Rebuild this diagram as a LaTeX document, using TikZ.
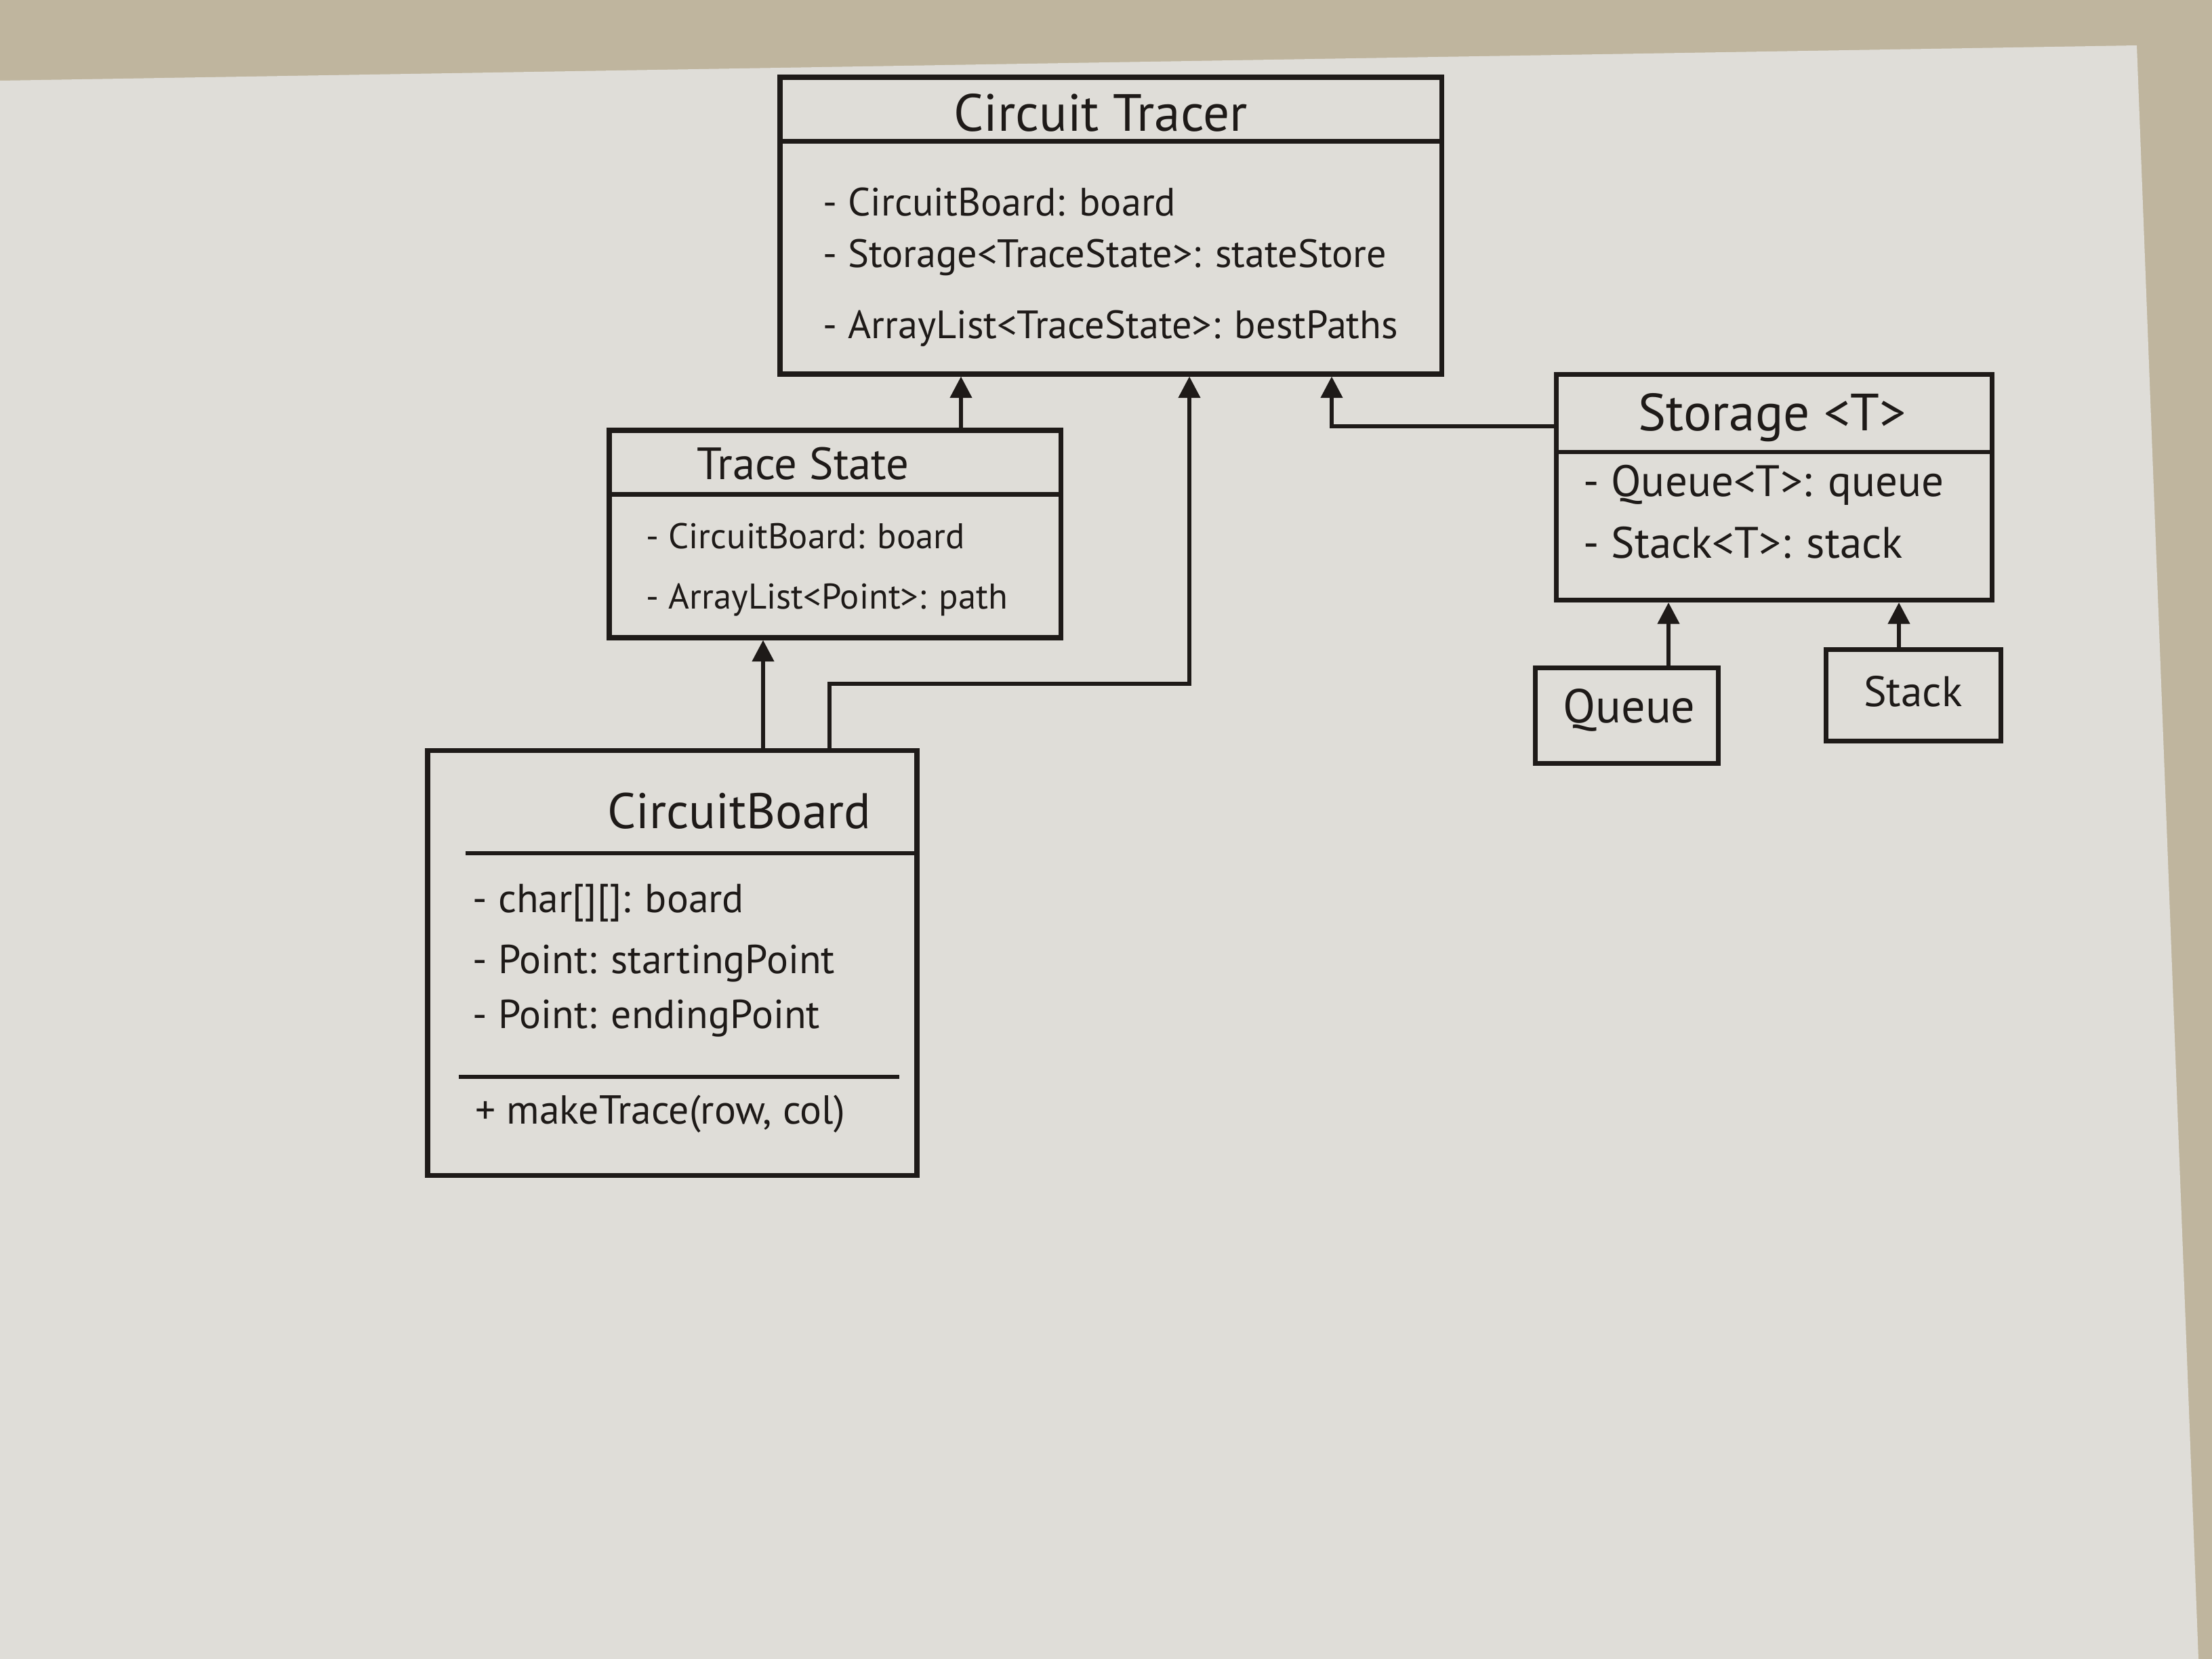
\documentclass[tikz,border=0pt]{standalone}
\usepackage{fontspec}
\setmainfont{PT Sans}
\usetikzlibrary{arrows.meta,positioning}
\definecolor{paper}{HTML}{DFDDD8}
\definecolor{wall}{HTML}{BFB59E}
\definecolor{ink}{HTML}{1E1A18}
\tikzset{
	classbox/.style={draw=ink, line width=2pt, inner sep=0pt},
	classname/.style={text=ink, inner sep=0pt, font=\fontsize{#1}{#1}\selectfont},
	classname/.default=22,
	member/.style={anchor=west, text=ink, inner sep=0pt, font=\fontsize{#1}{#1}\selectfont},
	member/.default=16,
	divider/.style={draw=ink, line width=1.8pt},
	inherit/.style={draw=ink, line width=1.6pt, -{Triangle[width=9pt,length=9pt]}}
}
\begin{document}
\begin{tikzpicture}[y={(0cm,-1cm)}]
	% wall and sheet
	\fill[wall] (0,0) rectangle (32.64,24.48);
	\fill[paper] (0,1.19) -- (31.53,0.67) -- (32.44,24.48) -- (0,24.48) -- cycle;

	% Circuit Tracer
	\node[classbox, minimum width=9.76cm, minimum height=4.38cm] (tracer) at (16.39,3.33) {};
	\draw[divider] ([yshift=-0.98cm]tracer.north west) -- ([yshift=-0.98cm]tracer.north east);
	\node[classname] (tracer-name) at (16.24,1.66) {Circuit Tracer};
	\foreach \y\t [count=\k] in {2.98/- CircuitBoard: board, 3.80/- Storage<TraceState>: stateStore, 4.85/- ArrayList<TraceState>: bestPaths}{
		\node[member=16.6] (tracer-m\k) at (12.14,\y) {\t};
	}

	% Trace State
	\node[classbox, minimum width=6.66cm, minimum height=3.06cm] (tracestate) at (12.32,7.88) {};
	\draw[divider] ([yshift=-0.98cm]tracestate.north west) -- ([yshift=-0.98cm]tracestate.north east);
	\node[classname=19] (tracestate-name) at (11.85,6.84) {Trace State};
	\foreach \y\t [count=\k] in {7.91/- CircuitBoard: board, 8.85/- ArrayList<Point>: path}{
		\node[member=15] (tracestate-m\k) at (9.53,\y) {\t};
	}

	% Storage <T>
	\node[classbox, minimum width=6.43cm, minimum height=3.33cm] (storage) at (26.18,7.19) {};
	\draw[divider] ([yshift=-1.18cm]storage.north west) -- ([yshift=-1.18cm]storage.north east);
	\node[classname] (storage-name) at (26.15,6.16) {Storage <T>};
	\foreach \y\t [count=\k] in {7.16/- Queue<T>: queue, 8.01/- Stack<T>: stack}{
		\node[member=18.5] (storage-m\k) at (23.36,\y) {\t};
	}

	% Queue and Stack
	\node[classbox, minimum width=2.70cm, minimum height=1.41cm] (queue) at (24.00,10.56) {};
	\node[classname=20] (queue-name) at (24.04,10.48) {Queue};
	\node[classbox, minimum width=2.58cm, minimum height=1.35cm] (stack) at (28.23,10.26) {};
	\node[classname=18] (stack-name) at (28.23,10.20) {Stack};

	% CircuitBoard
	\node[classbox, minimum width=7.22cm, minimum height=6.27cm] (board) at (9.92,14.21) {};
	\draw[divider] ([xshift=0.6cm,yshift=-1.55cm]board.north west) -- ([yshift=-1.55cm]board.north east);
	\draw[divider] ([xshift=0.5cm,yshift=-4.85cm]board.north west) -- ([xshift=-0.3cm,yshift=-4.85cm]board.north east);
	\node[classname=21] (board-name) at (10.91,11.97) {CircuitBoard};
	\foreach \y\t [count=\k] in {13.32/- char[][]: board, 14.22/- Point: startingPoint, 15.03/- Point: endingPoint}{
		\node[member=17] (board-m\k) at (6.97,\y) {\t};
	}
	\node[member=17] (board-op1) at (7.01,16.44) {+ makeTrace(row, col)};

	% generalisations
	\draw[inherit] ([xshift=1.86cm]tracestate.north) -- ([xshift=1.86cm]tracestate.north |- tracer.south);
	\draw[inherit] ([xshift=1.34cm]board.north) -- ([xshift=1.34cm]board.north |- tracestate.south);
	\draw[inherit] ([xshift=2.32cm]board.north) -- ++(0,-0.95) -| ([xshift=1.16cm]tracer.south);
	\draw[inherit] ([yshift=0.9cm]storage.west) -| ([xshift=3.26cm]tracer.south);
	\draw[inherit] ([xshift=0.62cm]queue.north) -- ([xshift=0.62cm]queue.north |- storage.south);
	\draw[inherit] ([xshift=-0.21cm]stack.north) -- ([xshift=-0.21cm]stack.north |- storage.south);
\end{tikzpicture}
\end{document}
